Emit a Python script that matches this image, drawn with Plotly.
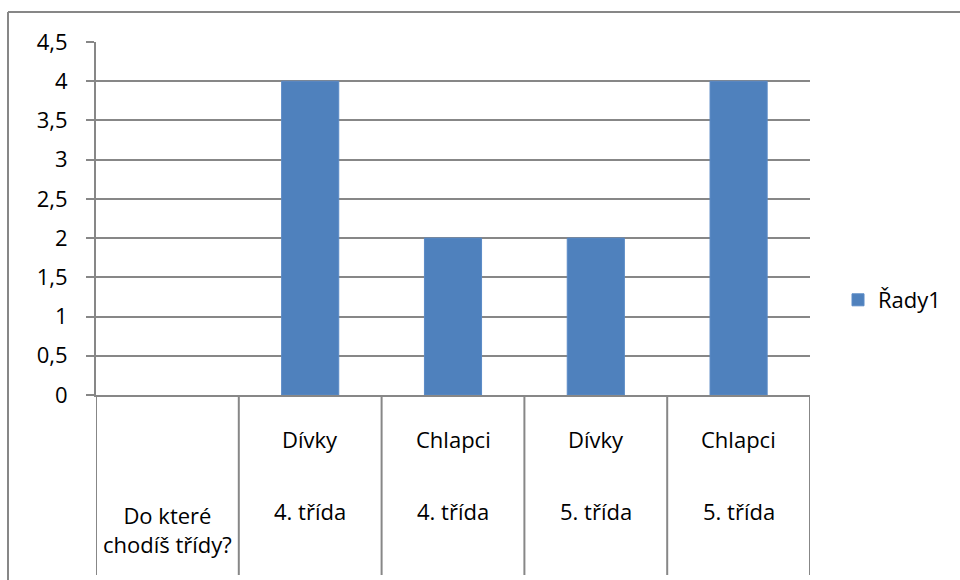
import plotly.graph_objects as go

# data
top_labels = ["", "Dívky", "Chlapci", "Dívky", "Chlapci"]
bottom_labels = ["Do které<br>chodíš třídy?", "4. třída", "4. třída", "5. třída", "5. třída"]
values = [None, 4, 2, 2, 4]
series_name = "Řady1"
y_ticks = [0, 0.5, 1, 1.5, 2, 2.5, 3, 3.5, 4, 4.5]

FONT = "Open Sans"
FS = 22
GRAY = "#878787"
BLUE = "#4F81BD"

L, R, T, B = 96, 150, 42, 185
W, H = 960, 580
pw, ph = W - L - R, H - T - B

def py(px_y):
    return (H - B - px_y) / ph

def pxx(px_x):
    return (px_x - L) / pw

xs = list(range(len(values)))

fig = go.Figure()
fig.add_trace(go.Bar(
    x=xs, y=values, name=series_name, width=0.4,
    marker=dict(color=BLUE, line=dict(color="#5A8AC6", width=1)),
    showlegend=True,
))

shapes = []
# category dividers (table)
for i in range(len(values) + 1):
    shapes.append(dict(type="line", xref="x", yref="paper",
                       x0=i - 0.5, x1=i - 0.5, y0=0, y1=py(575),
                       line=dict(color=GRAY, width=2)))
# outer chart border (partially visible)
shapes.append(dict(type="line", xref="paper", yref="paper",
                   x0=pxx(8), x1=pxx(8), y0=py(12), y1=py(600),
                   line=dict(color=GRAY, width=2)))
shapes.append(dict(type="line", xref="paper", yref="paper",
                   x0=pxx(8), x1=pxx(980), y0=py(12), y1=py(12),
                   line=dict(color=GRAY, width=2)))

annotations = []
for i, (t, b) in enumerate(zip(top_labels, bottom_labels)):
    if t:
        annotations.append(dict(x=i, y=py(439), xref="x", yref="paper",
                                xanchor="center", yanchor="middle",
                                text=t, showarrow=False,
                                font=dict(family=FONT, size=FS, color="black")))
    ypos = py(529) if "<br>" in b else py(511)
    annotations.append(dict(x=i, y=ypos, xref="x", yref="paper",
                            xanchor="center", yanchor="middle",
                            text=b, showarrow=False,
                            font=dict(family=FONT, size=FS, color="black")))

fig.update_layout(
    width=W, height=H,
    margin=dict(l=L, r=R, t=T, b=B, autoexpand=False),
    paper_bgcolor="white", plot_bgcolor="white",
    separators=", ",
    font=dict(family=FONT, size=FS, color="black"),
    shapes=shapes, annotations=annotations,
    bargap=0.6,
    legend=dict(x=pxx(838), y=py(300), xanchor="left", yanchor="middle",
                font=dict(family=FONT, size=FS, color="black"),
                itemwidth=30, bgcolor="rgba(0,0,0,0)"),
    xaxis=dict(range=[-0.5, len(values) - 0.5], showticklabels=False,
               showgrid=False, zeroline=False, showline=True,
               linecolor=GRAY, linewidth=2, ticks=""),
    yaxis=dict(range=[0, 4.5], tickvals=y_ticks, showgrid=True,
               gridcolor=GRAY, gridwidth=1.5, zeroline=False,
               showline=True, linecolor=GRAY, linewidth=2,
               ticks="outside", ticklen=8, tickcolor=GRAY, tickwidth=1.5,
               ticklabelstandoff=14,
               tickfont=dict(family=FONT, size=FS, color="black")),
)

fig.write_html("out.html", config={"displayModeBar": False},
               post_script="document.body.style.margin='0';document.body.style.padding='0';")
